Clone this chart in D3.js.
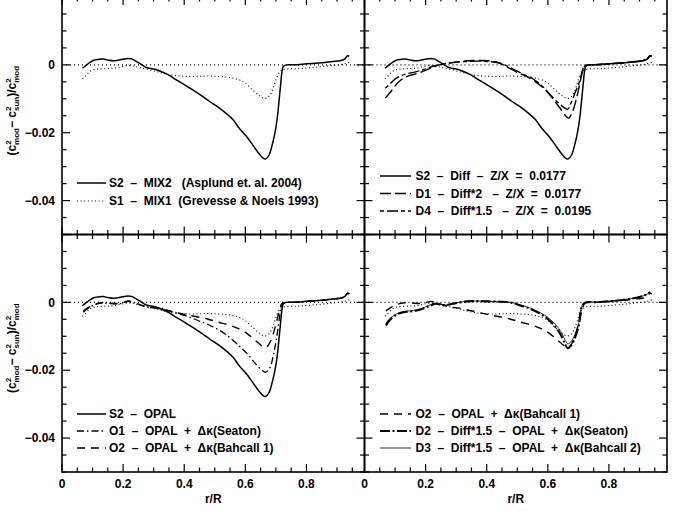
<!DOCTYPE html>
<html>
<head>
<meta charset="utf-8">
<script src="https://cdn.jsdelivr.net/npm/d3@7"></script>
<style>
  body { margin: 0; background: #fff; }
  svg { display: block; }
  text { font-family: "Liberation Sans", Arial, sans-serif; font-weight: bold; fill: #000; }
</style>
</head>
<body>
<svg id="chart" width="673" height="511"></svg>
<script>
// ---- data: [r/R, (c2mod - c2sun)/c2mod] ----
var s2Mix2 = [[0.067,-0.0010],[0.085,0.0003],[0.102,0.0013],[0.12,0.0016],[0.135,0.0017],[0.15,0.0014],[0.167,0.0012],[0.19,0.0015],[0.216,0.0019],[0.23,0.0017],[0.243,0.0010],[0.26,0.0001],[0.276,-0.0008],[0.3,-0.0012],[0.32,-0.0018],[0.345,-0.0028],[0.374,-0.0044],[0.4,-0.0058],[0.428,-0.0074],[0.455,-0.0090],[0.483,-0.0108],[0.51,-0.0124],[0.537,-0.0143],[0.56,-0.0162],[0.58,-0.0187],[0.6,-0.0207],[0.624,-0.0236],[0.645,-0.0262],[0.657,-0.0274],[0.667,-0.0277],[0.678,-0.0265],[0.689,-0.0232],[0.698,-0.0195],[0.705,-0.0153],[0.711,-0.0100],[0.716,-0.0054],[0.72,-0.0020],[0.724,-0.0005],[0.735,0.0000],[0.76,0.0000],[0.8,0.0003],[0.83,0.0005],[0.86,0.0007],[0.885,0.0010],[0.91,0.0012],[0.925,0.0017],[0.935,0.0027],[0.94,0.0025]];

var s1Mix1 = [[0.067,-0.0041],[0.08,-0.0030],[0.091,-0.0020],[0.105,-0.0014],[0.124,-0.0012],[0.145,-0.0011],[0.167,-0.0010],[0.19,-0.0006],[0.216,-0.0002],[0.235,-0.0004],[0.254,-0.0008],[0.287,-0.0015],[0.315,-0.0021],[0.341,-0.0027],[0.375,-0.0032],[0.407,-0.0034],[0.44,-0.0034],[0.472,-0.0033],[0.505,-0.0034],[0.537,-0.0036],[0.56,-0.0039],[0.58,-0.0044],[0.6,-0.0054],[0.624,-0.0074],[0.645,-0.0090],[0.662,-0.0099],[0.675,-0.0095],[0.684,-0.0084],[0.692,-0.0066],[0.70,-0.0044],[0.708,-0.0028],[0.716,-0.0017],[0.727,-0.0013],[0.776,-0.0011],[0.83,-0.0007],[0.885,-0.0002],[0.92,0.0002],[0.94,0.0008]];

var d1Diff2 = [[0.068,-0.0098],[0.085,-0.0080],[0.10,-0.0062],[0.12,-0.0044],[0.14,-0.0034],[0.17,-0.0026],[0.20,-0.0016],[0.225,-0.0006],[0.245,0.0000],[0.27,0.0004],[0.30,0.0008],[0.335,0.0012],[0.37,0.0013],[0.405,0.0012],[0.44,0.0006],[0.47,-0.0008],[0.50,-0.0022],[0.53,-0.0034],[0.56,-0.0050],[0.59,-0.0072],[0.615,-0.0098],[0.64,-0.0128],[0.66,-0.0152],[0.668,-0.0157],[0.68,-0.0140],[0.692,-0.0105],[0.70,-0.0075],[0.708,-0.0040],[0.715,-0.0015],[0.722,-0.0003],[0.74,0.0000],[0.76,0.0001],[0.8,0.0003],[0.83,0.0005],[0.86,0.0007],[0.885,0.0009],[0.91,0.0012],[0.925,0.0017],[0.935,0.0027],[0.94,0.0025]];

var d4Diff15 = [[0.068,-0.0069],[0.085,-0.0055],[0.10,-0.0042],[0.12,-0.0032],[0.14,-0.0026],[0.17,-0.0020],[0.20,-0.0012],[0.225,-0.0004],[0.245,0.0000],[0.27,0.0005],[0.30,0.0008],[0.335,0.0010],[0.37,0.0011],[0.405,0.0010],[0.445,0.0005],[0.47,-0.0005],[0.498,-0.0018],[0.52,-0.0028],[0.542,-0.0036],[0.565,-0.0050],[0.586,-0.0066],[0.605,-0.0085],[0.624,-0.0103],[0.645,-0.0120],[0.657,-0.0128],[0.665,-0.0131],[0.678,-0.0108],[0.69,-0.0080],[0.70,-0.0059],[0.708,-0.0035],[0.714,-0.0015],[0.72,-0.0002],[0.74,0.0000],[0.76,0.0001],[0.8,0.0003],[0.83,0.0005],[0.86,0.0007],[0.885,0.0009],[0.91,0.0012],[0.925,0.0017],[0.935,0.0027],[0.94,0.0025]];

var o1Seaton = [[0.07,-0.0029],[0.09,-0.0015],[0.11,-0.0006],[0.125,-0.0002],[0.15,-0.0003],[0.19,-0.0004],[0.217,0.0004],[0.24,-0.0002],[0.261,-0.0009],[0.28,-0.0014],[0.31,-0.0016],[0.33,-0.0018],[0.354,-0.0026],[0.38,-0.0033],[0.409,-0.0041],[0.43,-0.0048],[0.452,-0.0056],[0.48,-0.0066],[0.507,-0.0078],[0.535,-0.0094],[0.562,-0.0114],[0.585,-0.0133],[0.606,-0.0151],[0.625,-0.0172],[0.638,-0.0186],[0.655,-0.0201],[0.666,-0.0206],[0.675,-0.0200],[0.682,-0.0190],[0.695,-0.0142],[0.706,-0.0083],[0.715,-0.0024],[0.72,-0.0004],[0.735,0.0000],[0.76,0.0000],[0.8,0.0003],[0.83,0.0005],[0.86,0.0007],[0.885,0.0010],[0.91,0.0012],[0.925,0.0017],[0.935,0.0027],[0.94,0.0025]];

var o2Bahcall1 = [[0.07,-0.0025],[0.09,-0.0013],[0.11,-0.0005],[0.125,-0.0002],[0.15,-0.0002],[0.19,-0.0003],[0.217,0.0003],[0.24,-0.0002],[0.261,-0.0009],[0.28,-0.0014],[0.31,-0.0017],[0.345,-0.0024],[0.38,-0.0031],[0.41,-0.0037],[0.445,-0.0043],[0.476,-0.0049],[0.51,-0.0058],[0.551,-0.0068],[0.58,-0.0078],[0.606,-0.0092],[0.63,-0.0110],[0.648,-0.0124],[0.66,-0.0132],[0.668,-0.0133],[0.678,-0.0122],[0.688,-0.0102],[0.702,-0.0058],[0.715,-0.0013],[0.722,-0.0002],[0.735,0.0000],[0.76,0.0000],[0.8,0.0003],[0.83,0.0005],[0.86,0.0007],[0.885,0.0010],[0.91,0.0012],[0.925,0.0017],[0.935,0.0027],[0.94,0.0025]];

var d2Seaton = [[0.07,-0.0068],[0.08,-0.0055],[0.094,-0.0043],[0.11,-0.0034],[0.127,-0.0029],[0.15,-0.0027],[0.171,-0.0024],[0.19,-0.0019],[0.203,-0.0014],[0.22,-0.0008],[0.231,-0.0004],[0.245,-0.0006],[0.264,-0.0009],[0.285,-0.0005],[0.302,-0.0002],[0.335,0.0003],[0.37,0.0004],[0.4,0.0003],[0.445,0.0002],[0.466,0.0001],[0.49,-0.0003],[0.51,-0.0009],[0.54,-0.0018],[0.565,-0.0029],[0.59,-0.0042],[0.61,-0.0058],[0.628,-0.0076],[0.643,-0.0097],[0.655,-0.0120],[0.665,-0.0135],[0.675,-0.0128],[0.685,-0.0112],[0.70,-0.0073],[0.711,-0.0014],[0.72,-0.0002],[0.77,0.0001],[0.836,0.0006],[0.9,0.0016],[0.92,0.0022],[0.935,0.0030]];

var d3Bahcall2 = [[0.07,-0.0062],[0.08,-0.0050],[0.094,-0.0040],[0.11,-0.0032],[0.127,-0.0027],[0.15,-0.0025],[0.171,-0.0022],[0.19,-0.0017],[0.203,-0.0012],[0.22,-0.0006],[0.231,-0.0003],[0.245,-0.0005],[0.264,-0.0008],[0.285,-0.0004],[0.302,-0.0001],[0.335,0.0003],[0.37,0.0004],[0.4,0.0003],[0.445,0.0002],[0.466,0.0001],[0.49,-0.0002],[0.51,-0.0008],[0.54,-0.0016],[0.565,-0.0026],[0.59,-0.0038],[0.61,-0.0052],[0.628,-0.0068],[0.643,-0.0087],[0.655,-0.0108],[0.665,-0.0122],[0.675,-0.0117],[0.685,-0.0102],[0.70,-0.0066],[0.711,-0.0012],[0.72,-0.0001],[0.77,0.0001],[0.836,0.0006],[0.9,0.0016],[0.92,0.0022],[0.935,0.0030]];

var xTickLabels = ["0", "0.2", "0.4", "0.6", "0.8"];
var yTickLabels = ["0", "\u22120.02", "\u22120.04"];

var legendTopLeft = ["S2  \u2013  MIX2   (Asplund et. al. 2004)", "S1  \u2013  MIX1  (Grevesse & Noels 1993)"];
var legendTopRight = ["S2  \u2013  Diff  \u2013  Z/X  =  0.0177", "D1  \u2013  Diff*2   \u2013  Z/X  =  0.0177", "D4  \u2013  Diff*1.5   \u2013  Z/X  =  0.0195"];
var legendBottomLeft = ["S2  \u2013  OPAL", "O1  \u2013  OPAL  +  \u0394\u03ba(Seaton)", "O2  \u2013  OPAL  +  \u0394\u03ba(Bahcall 1)"];
var legendBottomRight = ["O2  \u2013  OPAL  +  \u0394\u03ba(Bahcall 1)", "D2  \u2013  Diff*1.5  \u2013  OPAL  +  \u0394\u03ba(Seaton)", "D3  \u2013  Diff*1.5  \u2013  OPAL  +  \u0394\u03ba(Bahcall 2)"];

// line styles
var styles = {
  solid:   { dash: null, w: 1.5 },
  dotted:  { dash: "1,2.6", w: 1.1 },
  longdash:{ dash: "11,4", w: 1.4 },
  dashlong:{ dash: "4,3,11,3", w: 1.4 },
  dashdot: { dash: "7,3,1.5,3", w: 1.3 },
  dashed:  { dash: "8,6", w: 1.4 },
  thickdd: { dash: "10,2.5,2,2.5", w: 2.1 },
  thin:    { dash: null, w: 0.8 }
};

var svg = d3.select("#chart");

var xLeft = [62, 364.5], xRight = [364.5, 667];
var yTop = [-3, 234.5], yBot = [234.5, 472];

var panels = [
  { xr: xLeft, yr: yTop, series: [[s2Mix2, "solid"], [s1Mix1, "dotted"]],
    legend: legendTopLeft, legStyles: ["solid", "dotted"], legX: [15, 44, 47], legY: [183, 201], yLab: true, xLab: false },
  { xr: xRight, yr: yTop, series: [[s1Mix1, "dotted"], [d1Diff2, "longdash"], [d4Diff15, "dashlong"], [s2Mix2, "solid"]],
    legend: legendTopRight, legStyles: ["solid", "longdash", "dashlong"], legX: [15.5, 46.5, 51], legY: [176, 193.5, 211], yLab: false, xLab: false },
  { xr: xLeft, yr: yBot, series: [[s1Mix1, "dotted"], [o2Bahcall1, "dashed"], [o1Seaton, "dashdot"], [s2Mix2, "solid"]],
    legend: legendBottomLeft, legStyles: ["solid", "dashdot", "dashed"], legX: [15, 44, 47], legY: [414, 431, 448], yLab: true, xLab: true },
  { xr: xRight, yr: yBot, series: [[s1Mix1, "dotted"], [o2Bahcall1, "dashed"], [d3Bahcall2, "thin"], [d2Seaton, "thickdd"]],
    legend: legendBottomRight, legStyles: ["dashed", "thickdd", "thin"], legX: [15.5, 46.5, 51], legY: [414, 431, 448], yLab: false, xLab: true }
];

panels.forEach(function(p, pi) {
  var x = d3.scaleLinear().domain([0, 0.99]).range(p.xr);
  var y = d3.scaleLinear().domain([0.02, -0.05]).range(p.yr);
  var g = svg.append("g");

  var clipId = "clip" + pi;
  g.append("clipPath").attr("id", clipId).append("rect")
    .attr("x", p.xr[0]).attr("y", p.yr[0])
    .attr("width", p.xr[1] - p.xr[0]).attr("height", p.yr[1] - p.yr[0]);

  // zero reference line
  g.append("line")
    .attr("x1", p.xr[0]).attr("x2", p.xr[1])
    .attr("y1", y(0)).attr("y2", y(0))
    .attr("stroke", "#000").attr("stroke-width", 1.1)
    .attr("stroke-dasharray", "1,3");

  var line = d3.line().x(function(d) { return x(d[0]); }).y(function(d) { return y(d[1]); })
    .curve(d3.curveCatmullRom.alpha(0.5));

  p.series.forEach(function(s) {
    var st = styles[s[1]];
    g.append("path")
      .datum(s[0])
      .attr("d", line)
      .attr("clip-path", "url(#" + clipId + ")")
      .attr("fill", "none")
      .attr("stroke", "#000")
      .attr("stroke-width", st.w)
      .attr("stroke-dasharray", st.dash);
  });

  // frame
  g.append("rect")
    .attr("x", p.xr[0]).attr("y", p.yr[0])
    .attr("width", p.xr[1] - p.xr[0]).attr("height", p.yr[1] - p.yr[0])
    .attr("fill", "none").attr("stroke", "#000").attr("stroke-width", 1.6);

  // inward ticks on all four sides
  var xt = d3.range(0, 0.99, 0.05);
  xt.forEach(function(v) {
    var major = Math.abs(v / 0.2 - Math.round(v / 0.2)) < 1e-6;
    var len = major ? 8 : 4.5;
    g.append("line").attr("x1", x(v)).attr("x2", x(v))
      .attr("y1", p.yr[1]).attr("y2", p.yr[1] - len)
      .attr("stroke", "#000").attr("stroke-width", 1.2);
    g.append("line").attr("x1", x(v)).attr("x2", x(v))
      .attr("y1", p.yr[0]).attr("y2", p.yr[0] + len)
      .attr("stroke", "#000").attr("stroke-width", 1.2);
  });
  var yt = d3.range(-0.05, 0.0201, 0.005);
  yt.forEach(function(v) {
    var major = Math.abs(v / 0.02 - Math.round(v / 0.02)) < 1e-6;
    var len = major ? 8 : 4.5;
    g.append("line").attr("x1", p.xr[0]).attr("x2", p.xr[0] + len)
      .attr("y1", y(v)).attr("y2", y(v))
      .attr("stroke", "#000").attr("stroke-width", 1.2);
    g.append("line").attr("x1", p.xr[1]).attr("x2", p.xr[1] - len)
      .attr("y1", y(v)).attr("y2", y(v))
      .attr("stroke", "#000").attr("stroke-width", 1.2);
  });

  if (p.yLab) {
    [0, -0.02, -0.04].forEach(function(v, i) {
      g.append("text").attr("x", p.xr[0] - 7).attr("y", y(v)).attr("dy", "0.35em")
        .attr("text-anchor", "end").attr("font-size", 12).text(yTickLabels[i]);
    });
    var cy = (p.yr[0] + p.yr[1]) / 2 - 5;
    var lab = g.append("text").attr("transform", "translate(16," + cy + ") rotate(-90)")
      .attr("text-anchor", "middle").attr("font-size", 12);
    lab.append("tspan").text("(c");
    lab.append("tspan").attr("font-size", 8).attr("dy", -5).text("2");
    lab.append("tspan").attr("font-size", 8).attr("dx", -4.5).attr("dy", 8).text("mod");
    lab.append("tspan").attr("dy", -3).text("\u2212 c");
    lab.append("tspan").attr("font-size", 8).attr("dy", -5).text("2");
    lab.append("tspan").attr("font-size", 8).attr("dx", -4.5).attr("dy", 8).text("sun");
    lab.append("tspan").attr("dy", -3).text(")/c");
    lab.append("tspan").attr("font-size", 8).attr("dy", -5).text("2");
    lab.append("tspan").attr("font-size", 8).attr("dx", -4.5).attr("dy", 8).text("mod");
  }

  if (p.xLab) {
    [0, 0.2, 0.4, 0.6, 0.8].forEach(function(v, i) {
      g.append("text").attr("x", x(v)).attr("y", 488)
        .attr("text-anchor", "middle").attr("font-size", 12).text(xTickLabels[i]);
    });
    g.append("text").attr("x", (x(0) + x(0.99)) / 2).attr("y", 503)
      .attr("text-anchor", "middle").attr("font-size", 12).text("r/R");
  }

  // legend
  p.legend.forEach(function(t, i) {
    var st = styles[p.legStyles[i]];
    var ly = p.legY[i];
    g.append("line")
      .attr("x1", p.xr[0] + p.legX[0]).attr("x2", p.xr[0] + p.legX[1])
      .attr("y1", ly).attr("y2", ly)
      .attr("stroke", "#000").attr("stroke-width", st.w)
      .attr("stroke-dasharray", st.dash);
    g.append("text").attr("x", p.xr[0] + p.legX[2]).attr("y", ly).attr("dy", "0.35em")
      .attr("font-size", 12).attr("xml:space", "preserve").style("white-space", "pre").text(t);
  });
});
</script>
</body>
</html>
